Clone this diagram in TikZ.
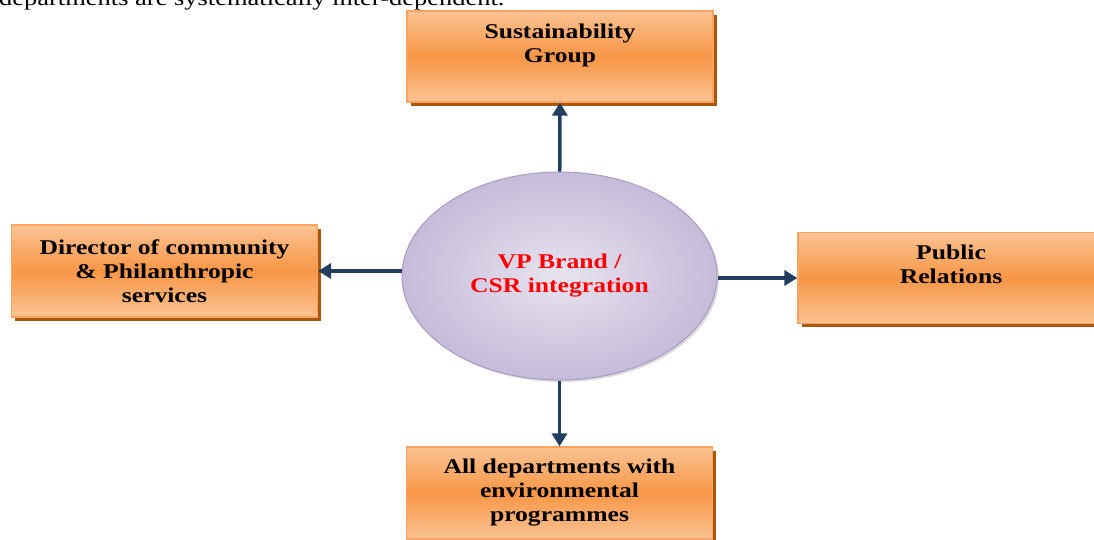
\documentclass[tikz,border=0pt]{standalone}
\usepackage{fontspec}
\usepackage{xcolor}
\usepackage{tikz}
\usetikzlibrary{shapes.geometric,shadows,arrows.meta,positioning}
\newfontfamily\diagfont{Liberation Serif}[FakeStretch=1.22]
\definecolor{boxorange}{HTML}{F79646}
\definecolor{boxlight}{HTML}{FAC393}
\definecolor{boxedge}{HTML}{F8A360}
\definecolor{boxshadow}{HTML}{A9560F}
\definecolor{hublight}{HTML}{E7E3EE}
\definecolor{hubdark}{HTML}{C6BBD9}
\definecolor{hubedge}{HTML}{A99CC6}
\definecolor{linknavy}{HTML}{213E61}
\tikzset{
  unitbox/.style={rectangle, draw=boxedge, line width=1.2pt,
    top color=boxlight, bottom color=boxlight, middle color=boxorange,
    minimum width=306pt, minimum height=91pt, align=center, text=black,
    font=\diagfont\bfseries\fontsize{21}{24}\selectfont,
    drop shadow={shadow xshift=3.5pt, shadow yshift=-3.5pt, fill=boxshadow, opacity=1}},
  % two-line boxes keep their text in the upper part
  raisedtext/.style={text depth=27pt},
  hub/.style={ellipse, draw=hubedge, line width=1pt,
    inner color=hublight, outer color=hubdark,
    minimum width=315pt, minimum height=208pt, inner sep=0pt, align=center, text=red,
    font=\diagfont\bfseries\fontsize{21}{24}\selectfont,
    drop shadow={shadow xshift=2pt, shadow yshift=-2pt, fill=black!40, opacity=0.35}},
  link/.style={draw=linknavy, line width=3.5pt, -{Triangle[length=13pt,width=15pt]}}
}

\begin{document}
\begin{tikzpicture}[x=1pt,y=1pt]
    % Page frame
    \useasboundingbox (0,0) rectangle (1094,-539);

    % Cut-off line of text above the chart
    \node[anchor=base west, inner sep=0pt, font=\diagfont\fontsize{21.7}{24}\selectfont] (intro) at (-1,-5)
        {departments are systematically inter-dependent.};

    % Centre
    \node[hub] (vp) at (559.5,-276) {VP Brand /\\CSR integration};

    % Units round the centre
    \node[unitbox, raisedtext] (sus) at (560,-56.5) {Sustainability\\Group};
    \node[unitbox, minimum height=92pt] (dir) at (164.5,-271) {Director of community\\\& Philanthropic\\services};
    \node[unitbox, raisedtext] (pr) at (951,-278) {Public\\Relations};
    \node[unitbox, minimum height=92pt] (env) at (559.5,-493) {All departments with\\environmental\\programmes};

    % Links
    \draw[link] (vp) -- (sus);
    \draw[link] (vp.west |- dir) -- (dir.east);
    \draw[link] (vp.east |- pr) -- (pr.west);
    \draw[link] (vp) -- (env);

\end{tikzpicture}
\end{document}
